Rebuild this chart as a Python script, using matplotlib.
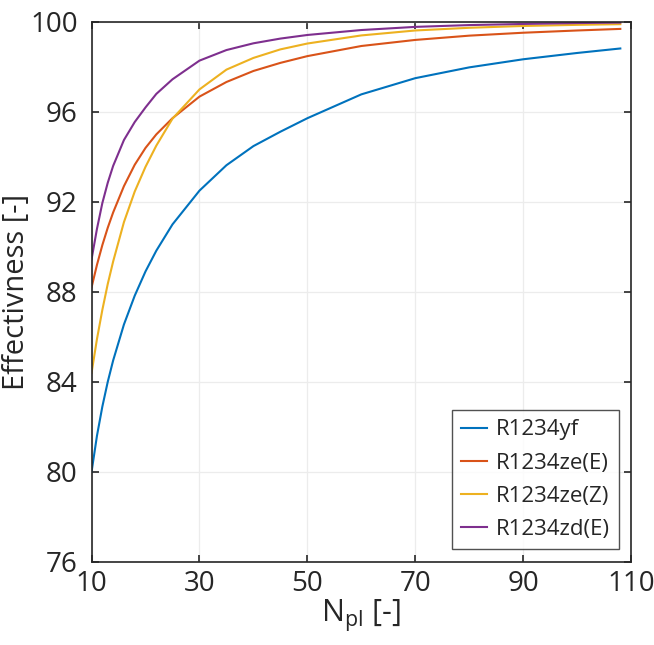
import numpy as np
import matplotlib
matplotlib.use("Agg")
import matplotlib.pyplot as plt

plt.rcParams['font.family'] = ['Open Sans', 'DejaVu Sans']
plt.rcParams['mathtext.fontset'] = 'custom'
plt.rcParams['mathtext.rm'] = 'Open Sans'
plt.rcParams['mathtext.it'] = 'Open Sans'

# number of plates
n_pl = [10, 11, 12, 13, 14, 16, 18, 20, 22, 25, 30, 35, 40, 45, 50, 60, 70, 80, 90, 100, 108]

# effectiveness [%]
eff_yf = [80.0, 81.6, 82.9, 84.0, 84.95, 86.55, 87.83, 88.91, 89.83, 91.0, 92.5, 93.63, 94.48, 95.12,
          95.72, 96.78, 97.5, 97.98, 98.34, 98.62, 98.82]
eff_zeE = [88.2, 89.2, 90.08, 90.85, 91.53, 92.7, 93.65, 94.4, 95.0, 95.72, 96.68, 97.33, 97.82, 98.18,
           98.48, 98.93, 99.2, 99.39, 99.52, 99.62, 99.69]
eff_zeZ = [84.4, 85.9, 87.2, 88.35, 89.35, 91.1, 92.46, 93.56, 94.5, 95.7, 97.0, 97.88, 98.4, 98.78,
           99.04, 99.4, 99.62, 99.74, 99.82, 99.87, 99.9]
eff_zdE = [89.45, 90.8, 91.95, 92.85, 93.6, 94.75, 95.55, 96.2, 96.8, 97.45, 98.28, 98.75, 99.05, 99.26,
           99.42, 99.64, 99.78, 99.86, 99.91, 99.95, 99.97]

labels = ['R1234yf', 'R1234ze(E)', 'R1234ze(Z)', 'R1234zd(E)']
colors = ['#0072BD', '#D95319', '#EDB120', '#7E2F8E']
xticks = [10, 30, 50, 70, 90, 110]
yticks = [76, 80, 84, 88, 92, 96, 100]

fig = plt.figure(figsize=(6.54, 6.45), dpi=100)
ax = fig.add_axes([0.140, 0.129, 0.825, 0.837])

for y, lab, c in zip([eff_yf, eff_zeE, eff_zeZ, eff_zdE], labels, colors):
    ax.plot(n_pl, y, color=c, lw=1.5, label=lab)

ax.set_xlim(10, 110)
ax.set_ylim(76, 100)
ax.set_xticks(xticks)
ax.set_yticks(yticks)
ax.grid(True, color='#ececec', lw=0.9)
ax.set_axisbelow(True)
ax.tick_params(direction='in', length=5, width=1.2, top=True, right=True,
               labelsize=20, colors='#262626')
ax.tick_params(axis='x', pad=6)
ax.tick_params(axis='y', pad=10)
for s in ax.spines.values():
    s.set_color('#262626')
    s.set_linewidth(1.2)

ax.set_xlabel(r'N$_{\rm pl}$ [-]', fontsize=22, color='#262626', labelpad=0)
ax.set_ylabel('Effectivness [-]', fontsize=21, color='#262626')
ax.yaxis.set_label_coords(-0.113, 0.5)

leg = ax.legend(loc='lower right', bbox_to_anchor=(0.978, 0.024), fontsize=16,
                frameon=True, fancybox=False, handlelength=1.2, handletextpad=0.4,
                borderpad=0.4, labelspacing=0.55, borderaxespad=0)
leg.get_frame().set_edgecolor('#262626')
leg.get_frame().set_linewidth(1.0)
for t in leg.get_texts():
    t.set_color('#262626')

fig.savefig('out.png', dpi=100)
